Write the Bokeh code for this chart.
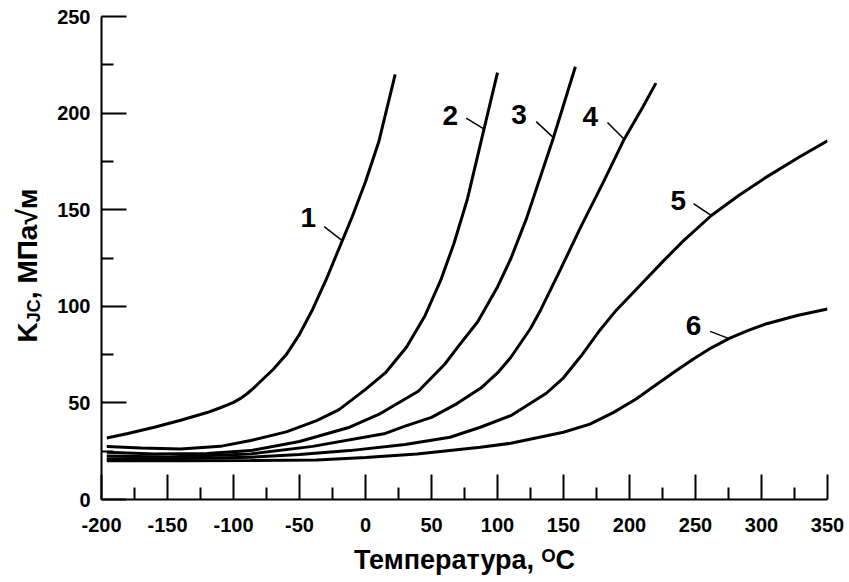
import math
from bokeh.plotting import figure
from bokeh.layouts import row
from bokeh.models import Range1d, FixedTicker
from bokeh.core.properties import value
from bokeh.embed import file_html
from bokeh.resources import INLINE

# ---- data (temperature, K_JC) ----
t1 = [-196, -180, -160, -140, -120, -110, -105, -100, -95, -90, -85, -80, -70, -60, -50, -40, -30, -20, -10, 0, 10, 22.5]
k1 = [31.8, 34.2, 37.4, 41.0, 45.0, 47.5, 48.8, 50.3, 52.2, 54.6, 57.5, 60.8, 67.3, 75.0, 85.5, 98.5, 113.5, 130.0, 146.5, 164.5, 185.0, 220.0]

t2 = [-196, -170, -140, -110, -87, -60, -37, -20, 0, 15, 31, 45, 57, 67, 77, 89, 100]
k2 = [27.4, 26.6, 26.2, 27.5, 30.5, 35.0, 40.8, 46.5, 57.0, 65.5, 78.8, 95.0, 113.5, 132.5, 155.0, 189.5, 221.0]

t3 = [-196, -160, -120, -87, -50, -12, 10, 40, 60, 70, 85, 100, 110, 122, 142, 159]
k3 = [24.5, 23.5, 23.8, 25.3, 30.0, 37.4, 44.0, 56.0, 70.0, 79.0, 92.0, 110.0, 124.5, 145.5, 186.5, 224.0]

t4 = [-196, -150, -87, -40, 14, 30, 50, 69, 88, 100, 110, 125, 133, 148, 163, 180, 196, 210, 220]
k4 = [22.5, 22.0, 23.6, 27.5, 34.0, 38.0, 42.5, 49.5, 58.0, 65.5, 73.5, 88.5, 98.5, 119.5, 141.0, 164.0, 186.5, 203.0, 215.5]

t5 = [-196, -140, -87, -50, -12, 30, 64, 87, 110, 137, 150, 163, 178, 190, 211, 225, 241, 262, 283, 304, 328, 350]
k5 = [21.0, 21.2, 21.9, 23.3, 25.3, 28.5, 32.2, 37.4, 43.4, 55.0, 63.0, 74.0, 88.0, 98.0, 113.0, 123.0, 134.0, 147.0, 157.5, 167.0, 177.0, 185.6]

t6 = [-196, -140, -87, -37, 0, 39, 87, 110, 150, 170, 188, 205, 221, 235, 249, 262, 276, 290, 304, 327, 350]
k6 = [20.0, 20.0, 20.2, 20.5, 21.8, 23.6, 27.0, 29.1, 34.8, 39.0, 45.1, 52.0, 59.8, 66.5, 73.0, 78.5, 83.5, 87.5, 91.0, 95.2, 98.6]

curve_names = ["1", "2", "3", "4", "5", "6"]

x_ticks = [-200, -150, -100, -50, 0, 50, 100, 150, 200, 250, 300, 350]
y_ticks = [0, 50, 100, 150, 200, 250]

x_title = "Температура, ᴼC"
y_title_parts = ["K", "JC", ", МПа√м"]

# curve number annotations (data coordinates) and leader lines
lab_t = [-43.4, 64.2, 116.4, 170.2, 236.9, 248.5]
lab_k = [145.8, 198.6, 199.4, 198.0, 154.9, 90.0]
lead_t0 = [-31.3, 76.3, 129.3, 183.3, 248.5, 261.1]
lead_k0 = [141.2, 197.4, 195.6, 195.1, 153.2, 87.0]
lead_t1 = [-17.4, 89.9, 142.4, 196.0, 262.4, 275.0]
lead_k1 = [133.9, 191.7, 187.3, 186.5, 146.8, 83.4]

BOLD = "Liberation Sans"
W_TOTAL, H_TOTAL = 849, 582
W_LEFT = 46            # strip with the rotated y title
TOP, BOTTOM = 16, 83


def bare(fig):
    fig.outline_line_color = None
    fig.grid.visible = False
    fig.background_fill_color = "white"
    fig.border_fill_color = "white"


# ---- main chart ----
p = figure(width=W_TOTAL - W_LEFT, height=H_TOTAL,
           x_range=Range1d(-200, 350), y_range=Range1d(0, 250),
           output_backend="svg", toolbar_location=None,
           min_border_left=101 - W_LEFT, min_border_right=22,
           min_border_top=TOP, min_border_bottom=BOTTOM)
bare(p)

p.xaxis.ticker = FixedTicker(ticks=x_ticks, minor_ticks=[t + 25 for t in x_ticks[:-1]])
p.yaxis.ticker = FixedTicker(ticks=y_ticks, minor_ticks=[t + 25 for t in y_ticks[:-1]])
p.xaxis.major_label_overrides = {t: str(t) for t in x_ticks}
p.yaxis.major_label_overrides = {t: str(t) for t in y_ticks}
for ax in p.axis:
    ax.major_tick_in = 25
    ax.major_tick_out = 0
    ax.minor_tick_in = 12
    ax.minor_tick_out = 0
    ax.axis_line_width = 2
    ax.major_tick_line_width = 2
    ax.minor_tick_line_width = 2
    ax.axis_line_color = "black"
    ax.major_tick_line_color = "black"
    ax.minor_tick_line_color = "black"
    ax.major_label_text_color = "black"
    ax.major_label_text_font = BOLD
    ax.major_label_text_font_style = "bold"
    ax.major_label_text_font_size = "20px"

p.xaxis.major_label_standoff = 18
p.yaxis.major_label_standoff = 11

p.xaxis.axis_label = x_title
p.xaxis.axis_label_text_font = BOLD
p.xaxis.axis_label_text_font_style = "bold"
p.xaxis.axis_label_text_font_size = "27px"
p.xaxis.axis_label_text_color = "black"
p.xaxis.axis_label_standoff = 10

for t, k in zip([t1, t2, t3, t4, t5, t6], [k1, k2, k3, k4, k5, k6]):
    p.line(t, k, line_color="black", line_width=3)

p.segment(x0=lead_t0, y0=lead_k0, x1=lead_t1, y1=lead_k1, line_color="black", line_width=1.5)
p.text(x=lab_t, y=lab_k, text=curve_names, text_align="center", text_baseline="middle",
       text_font=value(BOLD), text_font_style="bold", text_font_size="28px", text_color="black")

# ---- left strip: rotated y-axis title (K with subscript JC) ----
q = figure(width=W_LEFT, height=H_TOTAL, x_range=Range1d(0, W_LEFT), y_range=Range1d(0, 250),
           output_backend="svg", toolbar_location=None,
           x_axis_location=None, y_axis_location=None,
           min_border_left=0, min_border_right=0, min_border_top=TOP, min_border_bottom=BOTTOM)
bare(q)
ty_x = [27, 33, 27]
ty_y = [81.3, 91.8, 103.7]
ty_size = ["28px", "18px", "28px"]
q.text(x=ty_x, y=ty_y, text=y_title_parts, angle=math.pi / 2,
       text_align="left", text_baseline="middle", text_font=value(BOLD),
       text_font_style="bold", text_font_size=ty_size, text_color="black")

layout = row(q, p, spacing=0)
open("out.html", "w").write(file_html(layout, INLINE))
